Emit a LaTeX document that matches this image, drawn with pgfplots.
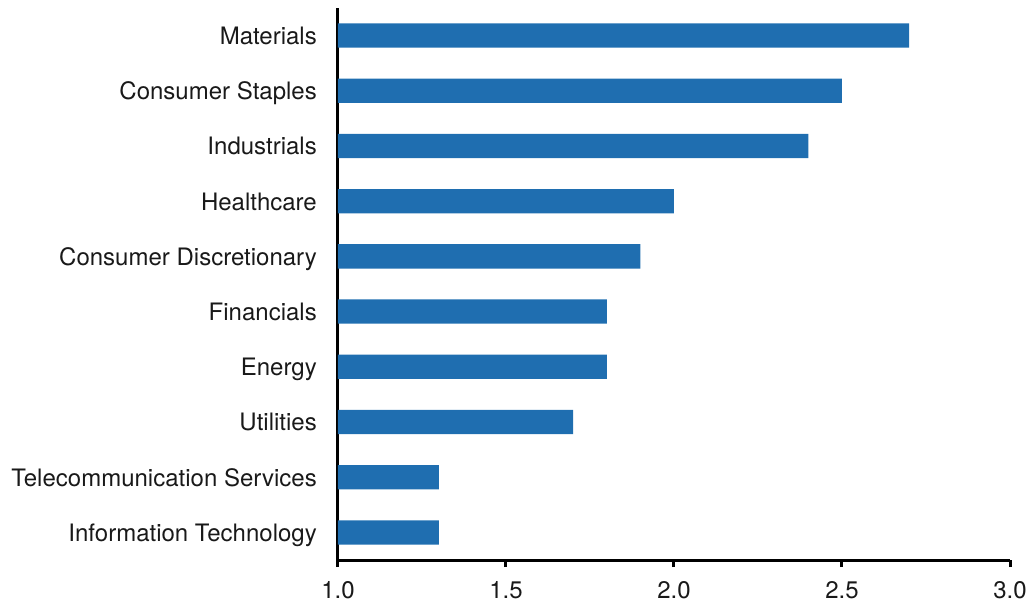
\documentclass[border=0pt]{standalone}
\usepackage{pgfplots}
\pgfplotsset{compat=1.18}
\usepackage{fontspec}
\setmainfont{TeX Gyre Heros}
\definecolor{barblue}{RGB}{31,110,176}
\begin{document}
\begin{tikzpicture}
\useasboundingbox (-338bp,-44bp) rectangle (694bp,560bp);
\begin{axis}[
  at={(0,0)}, anchor=south west,
  scale only axis,
  width=672bp, height=552bp,
  xmin=1, xmax=3, ymin=-0.5, ymax=9.5,
  xbar, bar width=0.44, bar shift=0pt,
  axis x line*=bottom, axis y line*=left,
  axis line style={line width=3bp, black, -},
  xtick={1,1.5,2,2.5,3},
  xticklabels={1.0,1.5,2.0,2.5,3.0},
  x tick style={line width=3bp, black},
  tick align=outside,
  major tick length=7bp,
  ytick={0,...,9},
  yticklabels={Information Technology,Telecommunication Services,Utilities,Energy,Financials,Consumer Discretionary,Healthcare,Industrials,Consumer Staples,Materials},
  y tick style={draw=none},
  /pgf/number format/assume math mode=true,
  tick label style={font=\fontsize{24.1}{28}\selectfont, text=black!90},
  yticklabel style={inner sep=0pt, xshift=-14bp, anchor=base east, yshift=-9bp},
  xticklabel style={inner sep=0pt, anchor=base, yshift=-31bp},
  clip=false,
]
\addplot[fill=barblue, draw=none] coordinates {
(1.3,0) (1.3,1) (1.7,2) (1.8,3) (1.8,4) (1.9,5) (2.0,6) (2.4,7) (2.5,8) (2.7,9)
};
\end{axis}
\end{tikzpicture}
\end{document}
